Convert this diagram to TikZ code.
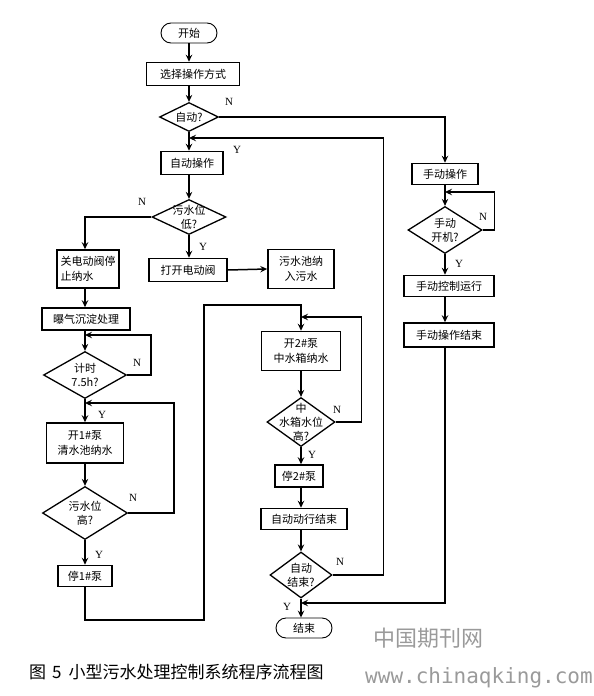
\documentclass[tikz,border=0pt]{standalone}
\usepackage{fontspec}
\usepackage{tikz}
\usetikzlibrary{arrows.meta,shapes.geometric,shapes.misc}
\newfontfamily\cn{Noto Sans CJK SC}
\newfontfamily\yn{Liberation Serif}
\newfontfamily\wm{DejaVu Sans Mono}
\definecolor{Ink}{HTML}{000000}
\definecolor{Mark}{HTML}{9A9A9A}
\tikzset{
  >={Stealth[length=7pt,width=6.5pt,inset=2.5pt]},
  proc/.style={rectangle,draw=Ink,line width=1.6pt,inner sep=0pt,font=\cn\fontsize{11}{15}\selectfont,align=center},
  term/.style={rounded rectangle,draw=Ink,line width=0.9pt,inner sep=0pt,minimum width=56pt,minimum height=20pt,font=\cn\fontsize{11}{13}\selectfont},
  cond/.style={diamond,draw=Ink,line width=1.3pt,inner sep=0pt},
  ctext/.style={font=\cn\fontsize{11}{14}\selectfont,align=center,inner sep=0pt},
  flow/.style={->,line width=1.5pt,draw=Ink},
  yn/.style={font=\yn\fontsize{11}{11}\selectfont,inner sep=0pt}
}
\begin{document}
\begin{tikzpicture}[x=1pt,y=-1pt]
  \useasboundingbox (0,0) rectangle (594,696);
  % automatic branch
  \node[term] (start) at (189,33) {开始};
  \node[proc,minimum width=93pt,minimum height=23pt] (sel) at (193,74) {选择操作方式};
  \node[cond,minimum width=59pt,minimum height=29pt,label={[ctext]center:自动?}] (auto) at (189,117) {};
  \node[proc,minimum width=62pt,minimum height=23pt] (aop) at (192,163) {自动操作};
  \node[cond,minimum width=74pt,minimum height=35pt,label={[ctext]center:{污水位\\低?}}] (low) at (189,217) {};
  \node[proc,minimum width=62pt,minimum height=38pt,align=left] (close) at (88,269) {关电动阀停\\止纳水};
  \node[proc,minimum width=78pt,minimum height=23pt] (open) at (188,270) {打开电动阀};
  \node[proc,minimum width=66pt,minimum height=39pt] (inflow) at (301,269) {污水池纳\\入污水};
  \node[proc,minimum width=88pt,minimum height=22pt] (aer) at (86,319) {曝气沉淀处理};
  \node[cond,minimum width=83pt,minimum height=47pt,label={[ctext]center:{计时\\7.5h?}}] (timer) at (85,375) {};
  \node[proc,minimum width=77pt,minimum height=40pt] (pump1) at (85,443) {开1\#泵\\清水池纳水};
  \node[cond,minimum width=85pt,minimum height=53pt,label={[ctext]center:{污水位\\高?}}] (high1) at (85,513) {};
  \node[proc,minimum width=54pt,minimum height=21pt] (stop1) at (85,576) {停1\#泵};
  \node[proc,minimum width=79pt,minimum height=39pt] (pump2) at (301,351) {开2\#泵\\中水箱纳水};
  \node[cond,minimum width=68pt,minimum height=49pt,label={[ctext]center:{中\\水箱水位\\高?}}] (high2) at (301,422) {};
  \node[proc,minimum width=48pt,minimum height=22pt] (stop2) at (299,476) {停2\#泵};
  \node[proc,minimum width=86pt,minimum height=21pt] (afin) at (304,519) {自动动行结束};
  \node[cond,minimum width=62pt,minimum height=46pt,label={[ctext]center:{自动\\结束?}}] (aend) at (301,575) {};
  \node[term] (end) at (304,628) {结束};
  % manual branch
  \node[proc,minimum width=66pt,minimum height=21pt] (mop) at (445,174) {手动操作};
  \node[cond,minimum width=74pt,minimum height=47pt,label={[ctext]center:{手动\\开机?}}] (mon) at (445,230) {};
  \node[proc,minimum width=90pt,minimum height=21pt] (mrun) at (449,286) {手动控制运行};
  \node[proc,minimum width=90pt,minimum height=24pt] (mfin) at (449,335) {手动操作结束};
  % junctions
  \coordinate (jA) at (189,138);
  \coordinate (jB) at (85,335);
  \coordinate (jC) at (85,403);
  \coordinate (jD) at (301,317);
  \coordinate (jE) at (301,603);
  \coordinate (jF) at (445,192);
  \coordinate (b1) at (204,620);
  \coordinate (b2) at (204,305);
  % connectors
  \draw[flow] (start.south) -- (start.south |- sel.north);
  \draw[flow] (start.south |- sel.south) -- (auto.north);
  \draw[flow] (auto.east) -| (mop.north);
  \draw[flow] (auto.south) -- (auto.south |- aop.north);
  \draw[flow] (auto.south |- aop.south) -- (low.north);
  \draw[flow] (low.west) -| (timer |- close.north);
  \draw[flow] (low.south) -- (low.south |- open.north);
  \draw[flow] (open.east) -- (inflow.west);
  \draw[flow] (timer |- close.south) -- (timer |- aer.north);
  \draw[flow] (timer |- aer.south) -- (timer.north);
  \draw[flow] (timer.east) -- ++(24,0) |- (jB);
  \draw[flow] (timer.south) -- (pump1.north);
  \draw[flow] (pump1.south) -- (high1.north);
  \draw[flow] (high1.east) -- ++(46,0) |- (jC);
  \draw[flow] (high1.south) -- (stop1.north);
  \draw[flow] (stop1.south) |- (b1) -- (b2) -| (pump2.north);
  \draw[flow] (pump2.south) -- (high2.north);
  \draw[flow] (high2.east) -- ++(26,0) |- (jD);
  \draw[flow] (high2.south) -- (high2.south |- stop2.north);
  \draw[flow] (high2.south |- stop2.south) -- (high2.south |- afin.north);
  \draw[flow] (high2.south |- afin.south) -- (aend.north);
  \draw[flow] (aend.south) -- (aend.south |- end.north);
  \draw[flow] (aend.east) -- ++(51,0) |- (jA);
  \draw[flow] (mop.south) -- (mon.north);
  \draw[flow] (mon.east) -- ++(12,0) |- (jF);
  \draw[flow] (mon.south) -- (mon.south |- mrun.north);
  \draw[flow] (mon.south |- mrun.south) -- (mon.south |- mfin.north);
  \draw[flow] (mon.south |- mfin.south) |- (jE);
  % Y / N marks
  \node[yn] (nA) at (229,102) {N};
  \node[yn] (yA) at (237,150) {Y};
  \node[yn] (nB) at (142,202) {N};
  \node[yn] (yB) at (203,247) {Y};
  \node[yn] (nC) at (137,363) {N};
  \node[yn] (yC) at (102,415) {Y};
  \node[yn] (nD) at (133,498) {N};
  \node[yn] (yD) at (99,555) {Y};
  \node[yn] (nE) at (337,410) {N};
  \node[yn] (yE) at (312,455) {Y};
  \node[yn] (nF) at (340,562) {N};
  \node[yn] (yF) at (287,607) {Y};
  \node[yn] (nG) at (483,217) {N};
  \node[yn] (yG) at (459,264) {Y};
  % caption and mark
  \node[anchor=west,inner sep=0pt,font=\cn\fontsize{17}{17}\selectfont] (cap) at (29,672) {图\hspace{6pt}5\hspace{7pt}小型污水处理控制系统程序流程图};
  \node[inner sep=0pt,text=Mark,font=\cn\fontsize{22}{22}\selectfont] (wm1) at (428,638) {中国期刊网};
  \node[inner sep=0pt,text=Mark,font=\wm\fontsize{21}{21}\selectfont] (wm2) at (479,678) {www.chinaqking.com};
\end{tikzpicture}
\end{document}
